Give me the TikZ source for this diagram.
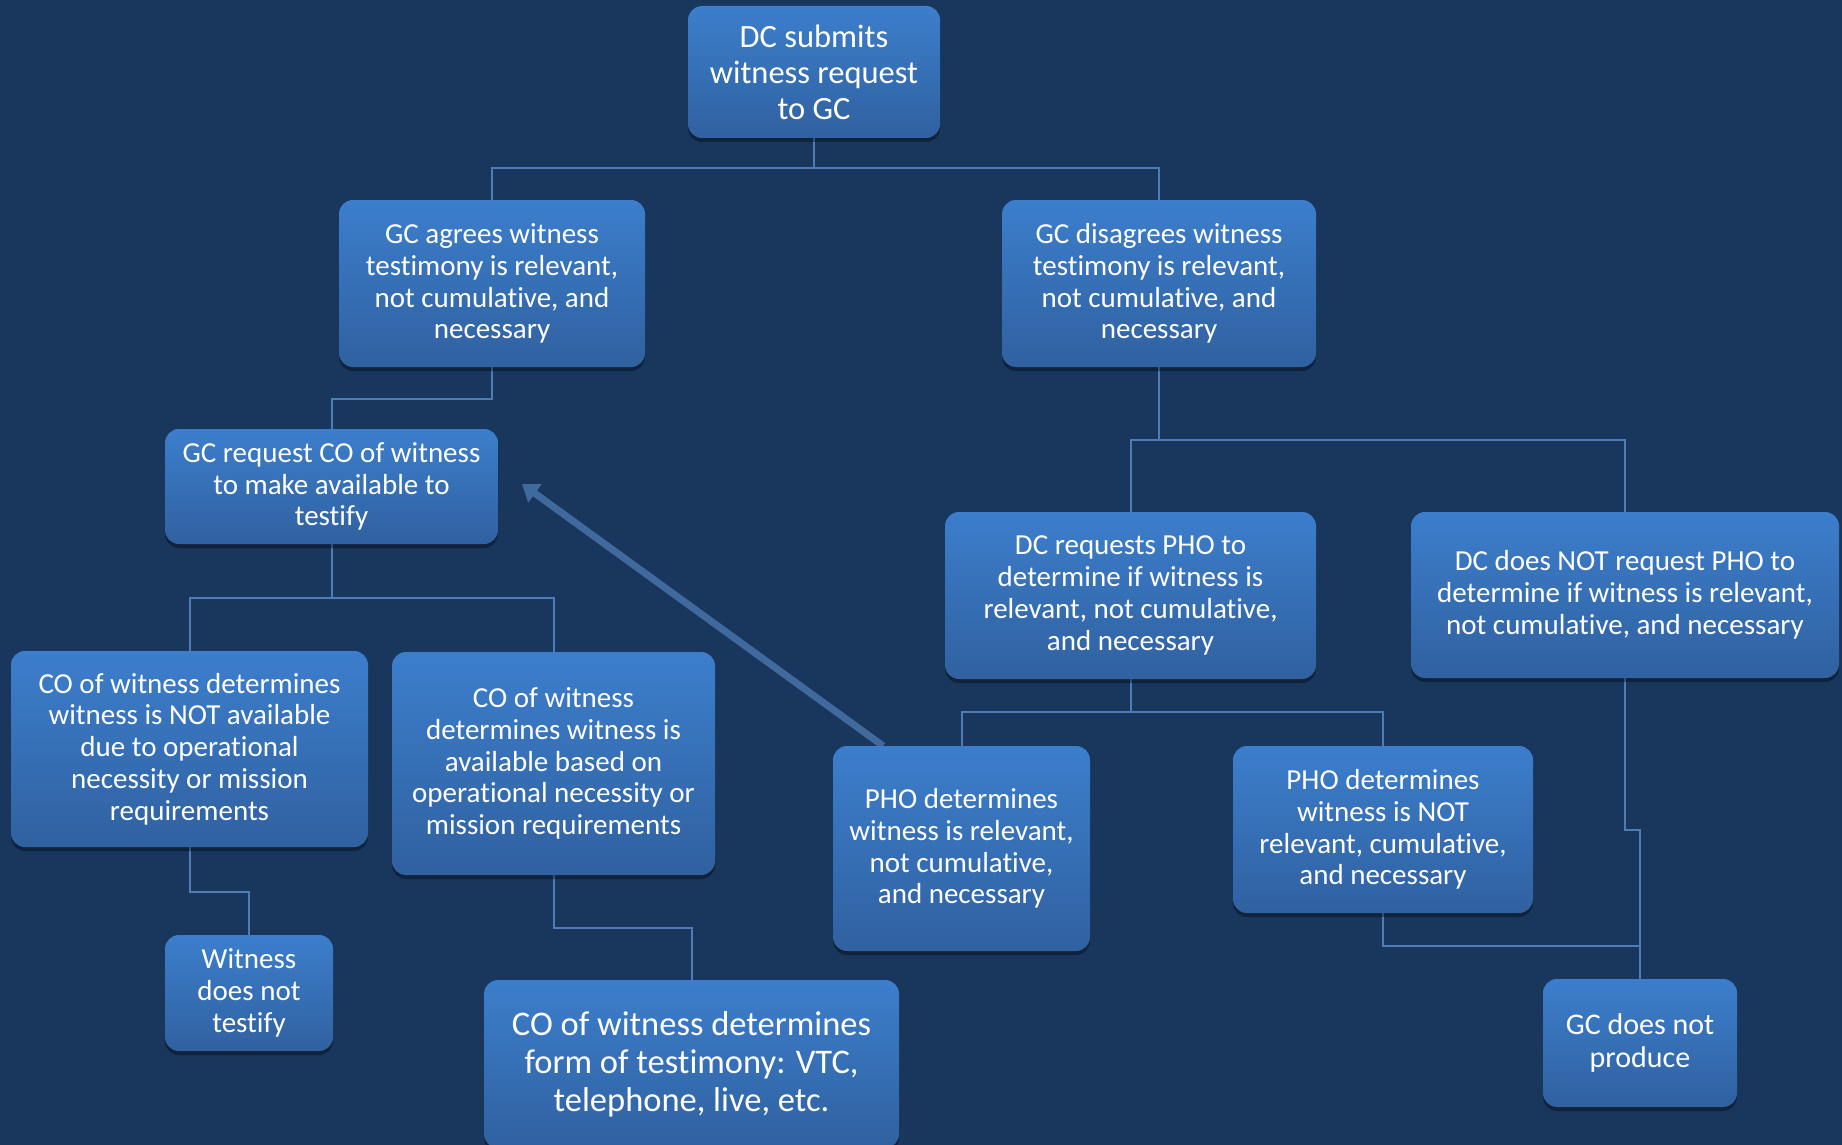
\documentclass[tikz,border=0pt]{standalone}
\usepackage{fontspec}
\setmainfont[Ligatures=NoCommon]{Carlito}
\usetikzlibrary{arrows.meta,shadows,calc}
\definecolor{bgc}{RGB}{25,55,93}
\definecolor{boxtop}{RGB}{60,126,204}
\definecolor{boxbot}{RGB}{48,97,160}
\definecolor{linec}{RGB}{78,124,182}
\definecolor{arrc}{RGB}{64,106,158}
\pgfdeclarelayer{bg}
\pgfsetlayers{bg,main}
\begin{document}
\begin{tikzpicture}[x=1pt,y=-1pt,
  box/.style={rounded corners=14pt, top color=boxtop, bottom color=boxbot, draw=none,
    text=white, align=center, inner sep=0pt,
    font=\fontsize{29}{31.8}\selectfont,
    drop shadow={shadow xshift=0pt, shadow yshift=-4pt, opacity=0.35, fill=black}},
  conn/.style={draw=linec, line width=2pt},
  bigarrow/.style={draw=arrc, line width=7pt, -{Triangle[length=16pt,width=22pt]}}]
\begin{pgfonlayer}{bg}
\fill[bgc] (0,0) rectangle (1842,1145);
\end{pgfonlayer}
\useasboundingbox (0,0) rectangle (1842,1145);

\node[box, minimum width=252pt, minimum height=132pt, font=\fontsize{32.5}{36}\selectfont] (dcsub) at (814,72) {DC submits\\witness request\\to GC};
\node[box, minimum width=306pt, minimum height=167pt] (gcagr) at (492,283.5) {GC agrees witness\\testimony is relevant,\\not cumulative, and\\necessary};
\node[box, minimum width=314pt, minimum height=167pt] (gcdis) at (1159,283.5) {GC disagrees witness\\testimony is relevant,\\not cumulative, and\\necessary};
\node[box, minimum width=333pt, minimum height=115pt] (gcreq) at (331.5,486.5) {GC request CO of witness\\to make available to\\testify};
\node[box, minimum width=357pt, minimum height=196pt] (conot) at (189.5,749) {CO of witness determines\\witness is NOT available\\due to operational\\necessity or mission\\requirements};
\node[box, minimum width=323pt, minimum height=223pt] (coav) at (553.5,763.5) {CO of witness\\determines witness is\\available based on\\operational necessity or\\mission requirements};
\node[box, minimum width=168pt, minimum height=116pt] (wit) at (249,993) {Witness\\does not\\testify};
\node[box, minimum width=415pt, minimum height=168pt, font=\fontsize{34.5}{37.8}\selectfont] (coform) at (691.5,1064) {CO of witness determines\\form of testimony: VTC,\\telephone, live, etc.};
\node[box, minimum width=371pt, minimum height=167pt] (dcreq) at (1130.5,595.5) {DC requests PHO to\\determine if witness is\\relevant, not cumulative,\\and necessary};
\node[box, minimum width=428pt, minimum height=166pt] (dcnot) at (1625,595) {DC does NOT request PHO to\\determine if witness is relevant,\\not cumulative, and necessary};
\node[box, minimum width=257pt, minimum height=205pt] (phorel) at (961.5,848.5) {PHO determines\\witness is relevant,\\not cumulative,\\and necessary};
\node[box, minimum width=300pt, minimum height=167pt] (phonot) at (1383,829.5) {PHO determines\\witness is NOT\\relevant, cumulative,\\and necessary};
\node[box, minimum width=194pt, minimum height=128pt, font=\fontsize{30}{33}\selectfont] (gcnp) at (1640,1043) {GC does not\\produce};

\coordinate (arrtip) at (522,484);

\begin{pgfonlayer}{bg}
\draw[conn] (dcsub.south) -- (dcsub.south |- 0,168) -| (gcagr.north);
\draw[conn] (dcsub.south |- 0,168) -| (gcdis.north);
\draw[conn] (gcagr.south) -- (gcagr.south |- 0,399) -| (gcreq.north);
\draw[conn] (gcreq.south) -- (gcreq.south |- 0,598) -| (conot.north);
\draw[conn] (gcreq.south |- 0,598) -| (coav.north);
\draw[conn] (conot.south) -- (conot.south |- 0,892) -| (wit.north);
\draw[conn] (coav.south) -- (coav.south |- 0,928) -| (coform.north);
\draw[conn] (gcdis.south) -- (gcdis.south |- 0,440) -| (dcreq.north);
\draw[conn] (gcdis.south |- 0,440) -| (dcnot.north);
\draw[conn] (dcreq.south) -- (dcreq.south |- 0,712) -| (phorel.north);
\draw[conn] (dcreq.south |- 0,712) -| (phonot.north);
\draw[conn] (dcnot.south) -- (dcnot.south |- 0,830) -| (gcnp.north);
\draw[conn] (phonot.south) -- (phonot.south |- 0,946) -| (gcnp.north);
\draw[bigarrow] ($(phorel.north west)!0.195!(phorel.north east)$) -- (arrtip);
\end{pgfonlayer}
\end{tikzpicture}
\end{document}
